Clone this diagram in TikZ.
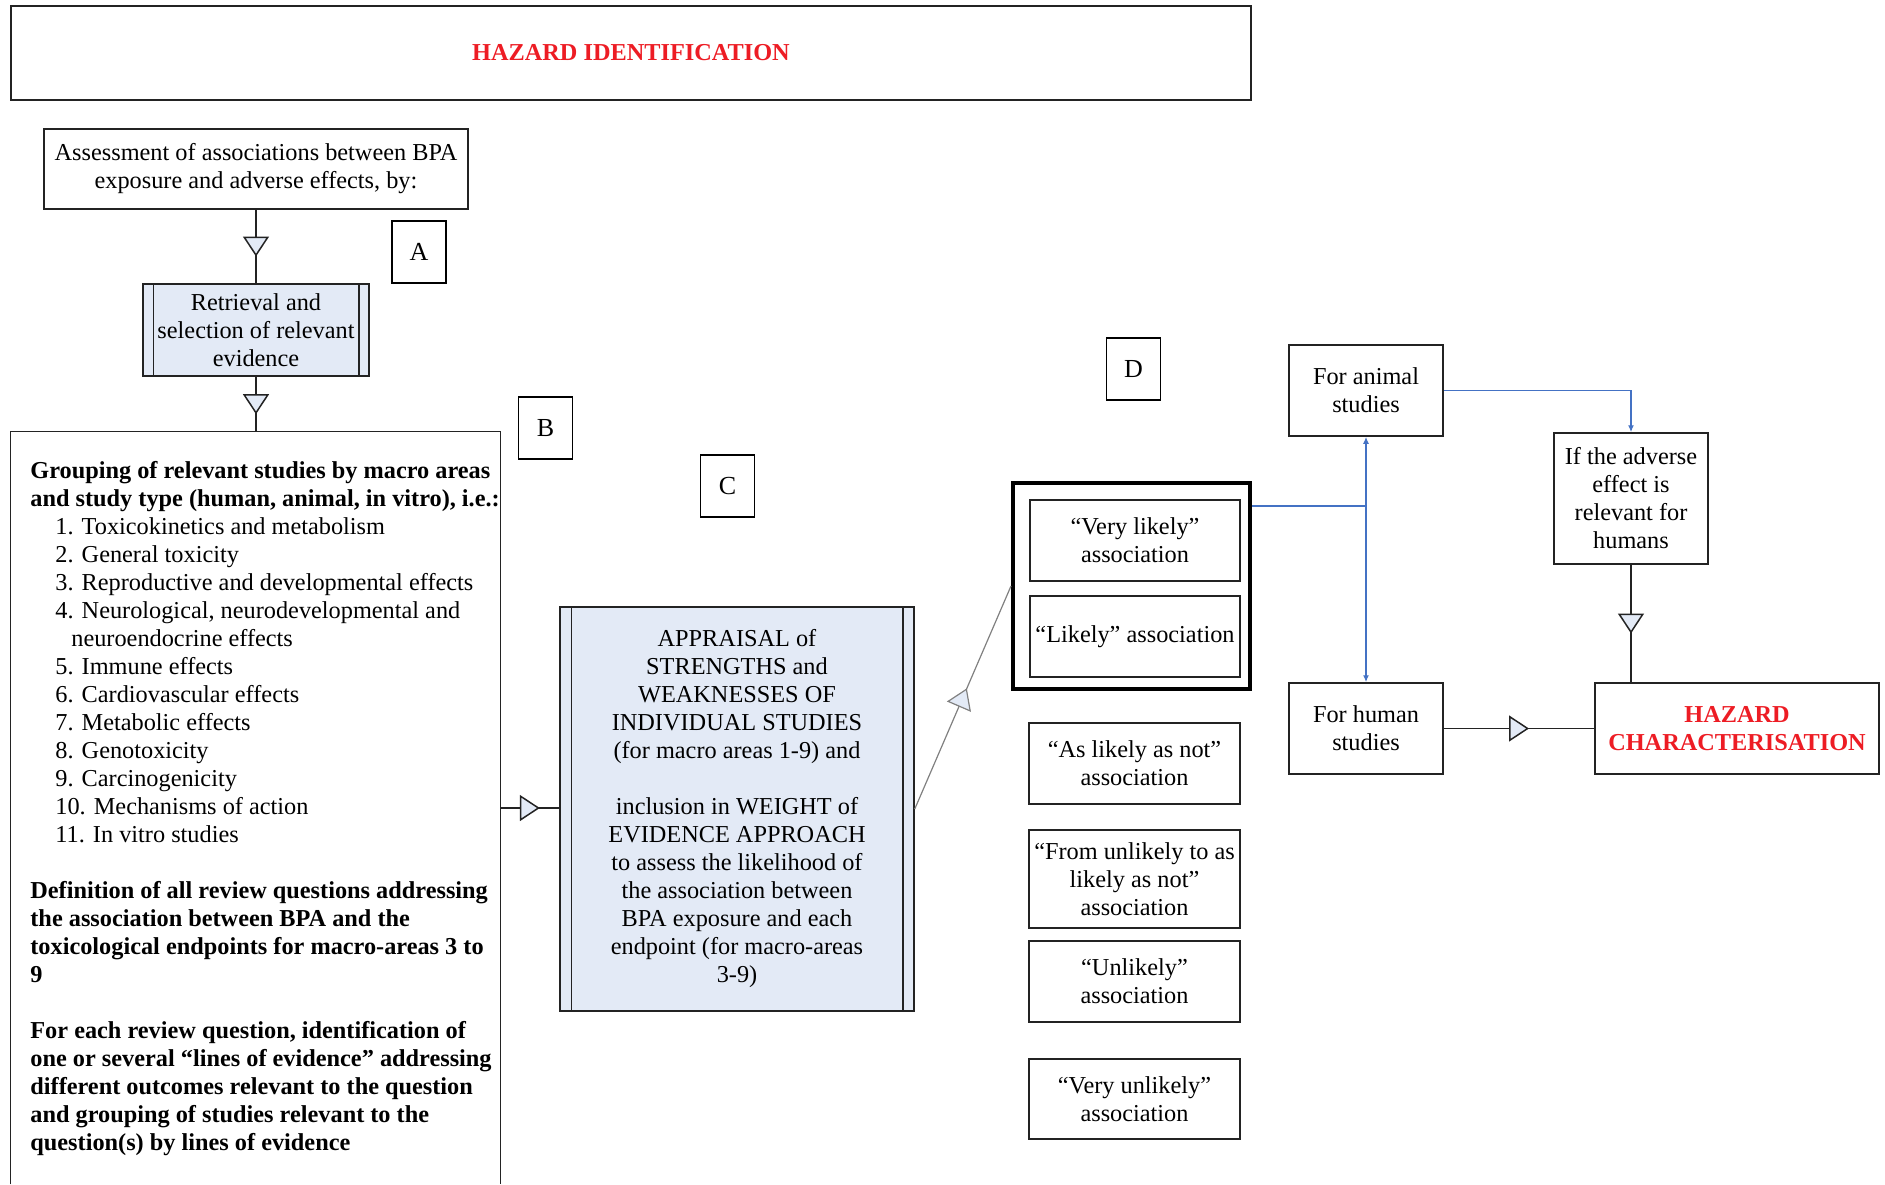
\documentclass[tikz,border=0pt]{standalone}
\usepackage{fontspec}
\setmainfont{Liberation Serif}
\usetikzlibrary{arrows.meta,decorations.markings,calc}

\definecolor{procfill}{RGB}{227,234,246}
\definecolor{linkblue}{RGB}{68,114,196}
\definecolor{hazred}{RGB}{237,28,36}
\definecolor{linegray}{RGB}{35,35,35}

\newcommand{\bodyfont}{\fontsize{12.15}{14}\selectfont}

\tikzset{
  boxline/.style={draw=linegray, line width=0.75pt},
  box/.style={boxline, align=center, font=\bodyfont, inner sep=1pt},
  procbox/.style={box, fill=procfill},
  letterbox/.style={draw, line width=0.7pt, font=\fontsize{13}{15}\selectfont,
    minimum width=27pt, minimum height=31pt},
  flow/.style={boxline, postaction={decorate}, decoration={markings,
    mark=at position 0.5 with {\arrow[xshift=5pt]{Triangle[width=13pt,length=10pt,fill=procfill]}}}},
  blueline/.style={draw=linkblue, line width=0.8pt},
  bluetip/.style={blueline, -{Latex[length=3.5pt,width=3pt]}},
}

\begin{document}
\begin{tikzpicture}[x=0.5pt,y=-0.5pt]
  \useasboundingbox (0,0) rectangle (1885,1184);

  % Title
  \node[box, minimum width=620pt, minimum height=47pt, font=\bodyfont\bfseries, text=hazred]
    (title) at (631,53) {HAZARD IDENTIFICATION};

  % A: retrieval of evidence
  \node[box, minimum width=212pt, minimum height=40pt] (assess) at (256,169)
    {Assessment of associations between BPA\\exposure and adverse effects, by:};
  \node[procbox, minimum width=113pt, minimum height=46pt] (retr) at (256,330)
    {Retrieval and\\selection of relevant\\evidence};
  \draw[boxline] ($(retr.north west)+(11,0)$) -- ($(retr.south west)+(11,0)$);
  \draw[boxline] ($(retr.north east)+(-11,0)$) -- ($(retr.south east)+(-11,0)$);
  \draw[flow] (assess) -- (retr);

  % B: grouping of studies
  \node[minimum width=244.5pt, minimum height=376pt, inner sep=0] (grp) at (255.5,808) {};
  \draw[boxline] (grp.south west) -- (grp.north west) -- (grp.north east) -- (grp.south east);
  \node[anchor=north west, align=left, font=\bodyfont, inner sep=0] (grptxt) at (30,461) {%
    \textbf{Grouping of relevant studies by macro areas}\\
    \textbf{and study type (human, animal, in vitro), i.e.:}\\
    \hspace*{12.5pt}1. Toxicokinetics and metabolism\\
    \hspace*{12.5pt}2. General toxicity\\
    \hspace*{12.5pt}3. Reproductive and developmental effects\\
    \hspace*{12.5pt}4. Neurological, neurodevelopmental and\\
    \hspace*{20.5pt}neuroendocrine effects\\
    \hspace*{12.5pt}5. Immune effects\\
    \hspace*{12.5pt}6. Cardiovascular effects\\
    \hspace*{12.5pt}7. Metabolic effects\\
    \hspace*{12.5pt}8. Genotoxicity\\
    \hspace*{12.5pt}9. Carcinogenicity\\
    \hspace*{12.5pt}10. Mechanisms of action\\
    \hspace*{12.5pt}11. In vitro studies\\[14pt]
    \textbf{Definition of all review questions addressing}\\
    \textbf{the association between BPA and the}\\
    \textbf{toxicological endpoints for macro-areas 3 to}\\
    \textbf{9}\\[14pt]
    \textbf{For each review question, identification of}\\
    \textbf{one or several “lines of evidence” addressing}\\
    \textbf{different outcomes relevant to the question}\\
    \textbf{and grouping of studies relevant to the}\\
    \textbf{question(s) by lines of evidence}};
  \draw[flow] (retr) -- (retr.south |- grp.north);

  % C: appraisal and weight of evidence
  \node[procbox, minimum width=177pt, minimum height=202pt] (appr) at (737,809)
    {APPRAISAL of\\STRENGTHS and\\WEAKNESSES OF\\INDIVIDUAL STUDIES\\(for macro areas 1-9) and\\[14pt]
     inclusion in WEIGHT of\\EVIDENCE APPROACH\\to assess the likelihood of\\the association between\\BPA exposure and each\\endpoint (for macro-areas\\3-9)};
  \draw[boxline] ($(appr.north west)+(12,0)$) -- ($(appr.south west)+(12,0)$);
  \draw[boxline] ($(appr.north east)+(-12,0)$) -- ($(appr.south east)+(-12,0)$);
  \draw[flow] (grp.east) -- (grp.east -| appr.west);

  % D: likelihood of association
  \node[draw, line width=2pt, minimum width=118.5pt, minimum height=103pt] (dgroup) at (1131.5,586) {};
  \foreach \nm/\xc/\yc/\bw/\bh/\txt in {
      vlik/1135/540.5/105/40.5/{“Very likely”\\association},
      lik/1135/636.5/105/40.5/{“Likely” association},
      aslik/1134.5/763.5/105.5/40.5/{“As likely as not”\\association},
      fromun/1134.5/879/105.5/49/{“From unlikely to as\\likely as not”\\association},
      unlik/1134.5/981.5/105.5/40.5/{“Unlikely”\\association},
      vunlik/1134.5/1099/105.5/40/{“Very unlikely”\\association}}
    \node[box, minimum width=\bw pt, minimum height=\bh pt] (\nm) at (\xc,\yc) {\txt};
  \draw[flow, draw=gray, line width=0.6pt] (appr.east) -- (dgroup.west);

  % Hazard characterisation
  \node[box, minimum width=77pt, minimum height=45.5pt] (animal) at (1366,390.5) {For animal\\studies};
  \node[box, minimum width=77pt, minimum height=45.5pt] (human) at (1366,728.5) {For human\\studies};
  \node[box, minimum width=77pt, minimum height=65.5pt] (ifrel) at (1631,498.5)
    {If the adverse\\effect is\\relevant for\\humans};
  \node[box, minimum width=142pt, minimum height=45.5pt, font=\bodyfont\bfseries, text=hazred]
    (hazchar) at (1737,728.5) {HAZARD\\CHARACTERISATION};

  \coordinate (split) at (1366,506);
  \draw[blueline] (dgroup.north east |- split) -- (split);
  \draw[bluetip] (split) -- (animal.south);
  \draw[bluetip] (split) -- (human.north);
  \draw[bluetip] (animal.east) -| (ifrel.north);
  \draw[flow] (ifrel.south) -- (ifrel.south |- hazchar.north);
  \draw[flow] (human.east) -- (hazchar.west);

  % Step labels
  \node[letterbox] (labA) at (419,252) {A};
  \node[letterbox] (labB) at (545.5,428) {B};
  \node[letterbox] (labC) at (727.5,486) {C};
  \node[letterbox] (labD) at (1133.5,369) {D};
\end{tikzpicture}
\end{document}
